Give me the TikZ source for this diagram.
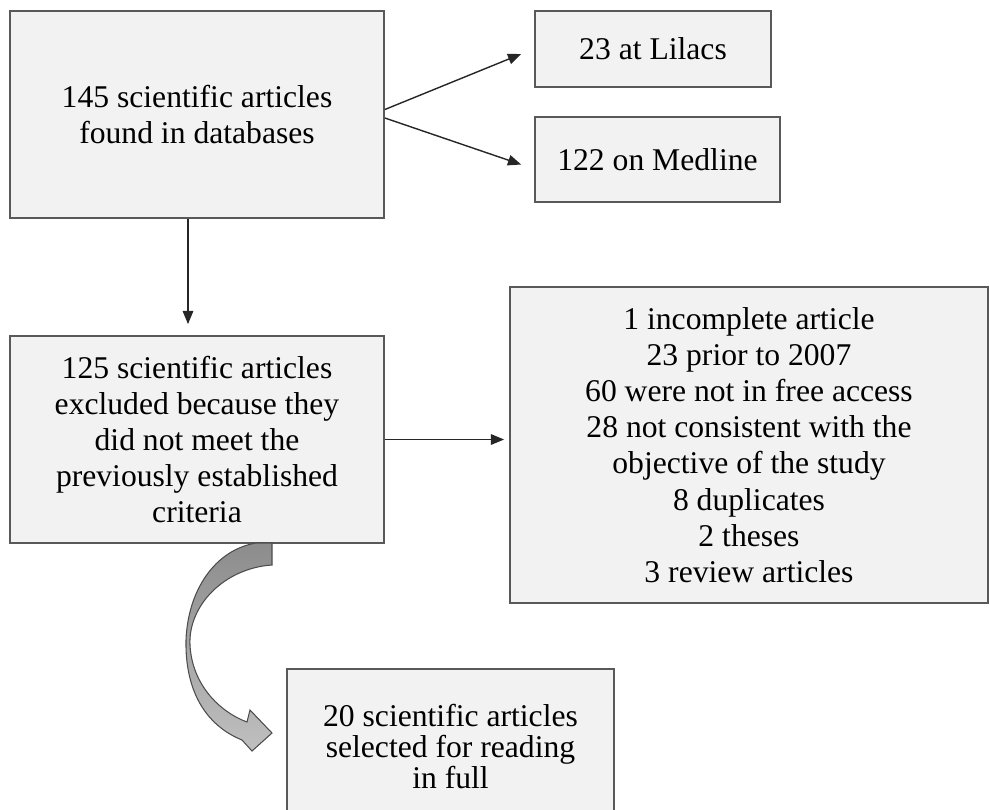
\documentclass[tikz,border=0pt]{standalone}
\usepackage{fontspec}
\setmainfont{Liberation Serif}
\usetikzlibrary{arrows.meta}
\begin{document}
\begin{tikzpicture}[box/.style = {draw=black!65, line width=1pt, fill=black!5,
    align=center, inner sep=0pt},
  arr/.style = {draw=black!85, line width=0.8pt, -{Triangle[length=7.5pt,width=6pt]}},
  every node/.style = {font=\fontsize{18}{20.6}\selectfont}]
\useasboundingbox (0,0) rectangle (19.8,-16.18);
\clip (0,0) rectangle (19.8,-16.18);
% boxes
\node[box, minimum width=7.48cm, minimum height=4.14cm] (found) at (3.94,-2.29)
  {145 scientific articles\\found in databases};
\node[box, minimum width=4.72cm, minimum height=1.52cm] (lilacs) at (13.06,-0.98) {23 at Lilacs};
\node[box, minimum width=4.9cm, minimum height=1.7cm] (medline) at (13.15,-3.19) {122 on Medline};
\node[box, minimum width=7.48cm, minimum height=4.14cm] (excl) at (3.94,-8.79)
  {125 scientific articles\\excluded because they\\did not meet the\\previously established\\criteria};
\node[box, minimum width=9.56cm, minimum height=6.32cm] (reasons) at (14.98,-8.9)
  {1 incomplete article\\23 prior to 2007\\60 were not in free access\\28 not consistent with the\\objective of the study\\8 duplicates\\2 theses\\3 review articles};
\node[box, minimum width=6.54cm, minimum height=3.1cm, anchor=north,
  font=\fontsize{18}{17.8}\selectfont] (sel) at (9.01,-13.36)
  {20 scientific articles\\selected for reading\\in full};
% arrows
\draw[arr] ([yshift=0.1cm]found.east) -- ([xshift=-0.26cm,yshift=-0.1cm]lilacs.west);
\draw[arr] ([yshift=-0.07cm]found.east) -- ([xshift=-0.26cm,yshift=-0.1cm]medline.west);
\draw[arr] ([xshift=-0.18cm]found.south) -- ([xshift=-0.18cm,yshift=0.22cm]excl.north);
\draw[arr] (excl.east) -- ([xshift=-0.1cm]excl.east -| reasons.west);
% curved block arrow
\draw[black!70, line width=0.6pt, top color=black!45, bottom color=black!25]
  (5.12,-10.86) -- (5.44,-10.86) -- (5.44,-11.30)
  .. controls (4.5,-11.36) and (3.76,-12.1) .. (3.8,-12.9)
  .. controls (3.84,-13.7) and (4.4,-14.24) .. (4.94,-14.44)
  -- (5.0,-14.2) -- (5.44,-14.66) -- (5.04,-15.02) -- (4.84,-14.8)
  .. controls (4.1,-14.5) and (3.7,-13.8) .. (3.72,-12.8)
  .. controls (3.76,-11.8) and (4.3,-11.0) .. (5.12,-10.86) -- cycle;
\end{tikzpicture}
\end{document}
